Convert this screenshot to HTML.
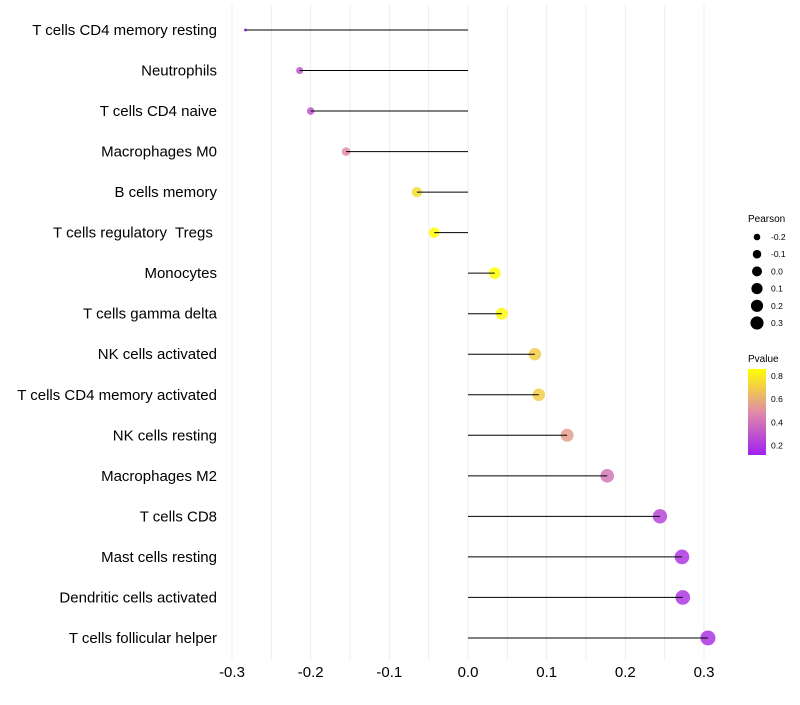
<!DOCTYPE html>
<html><head><meta charset="utf-8"><style>
body{margin:0;background:#fff;font-family:"Liberation Sans",sans-serif}
svg text{font-family:"Liberation Sans",sans-serif}
</style></head><body>
<svg id="chart" width="800" height="700" xmlns="http://www.w3.org/2000/svg">
<defs><linearGradient id="pg" x1="0" y1="1" x2="0" y2="0">
<stop offset="0" stop-color="#a020f0"/><stop offset="0.5" stop-color="#e08ca8"/><stop offset="1" stop-color="#ffff00"/>
</linearGradient></defs>
<g id="grid"></g>
<g id="pts"></g>
<g id="marks"></g>
<g id="labels"></g>
<g id="xt"></g>
<g>
<text x="748" y="222" font-size="10">Pearson</text>
<g id="sizeLeg"></g>
</g>
<g>
<text x="748" y="362" font-size="10">Pvalue</text>
<rect x="748" y="369" width="18" height="86" fill="url(#pg)"/>
<g id="colLeg"></g>
</g>
</svg>
<script>
const categories=["T cells CD4 memory resting","Neutrophils","T cells CD4 naive","Macrophages M0","B cells memory","T cells regulatory  Tregs ","Monocytes","T cells gamma delta","NK cells activated","T cells CD4 memory activated","NK cells resting","Macrophages M2","T cells CD8","Mast cells resting","Dendritic cells activated","T cells follicular helper"];
const pearson=[-0.283,-0.214,-0.200,-0.155,-0.065,-0.043,0.034,0.043,0.085,0.090,0.126,0.177,0.244,0.272,0.273,0.305];
const pvalue=[0.15,0.3,0.3,0.5,0.75,0.85,0.87,0.84,0.7,0.7,0.55,0.42,0.25,0.2,0.2,0.18];
const xTicks=[-0.3,-0.2,-0.1,0.0,0.1,0.2,0.3];
const sizeLegend=[-0.2,-0.1,0.0,0.1,0.2,0.3];
const colorLegend=[0.2,0.4,0.6,0.8];
const NS="http://www.w3.org/2000/svg";
const X=v=>468+v*786.67, Y=i=>30+i*40.53;
const R=p=>{const t=Math.max(0,(p+0.283)/0.588);return 1.5+6*Math.sqrt(t);};
const pY=p=>455-(p-0.12)/(0.86-0.12)*86;
function lerp(a,b,t){return a.map((c,i)=>Math.round(c+(b[i]-c)*t));}
function col(p){const t=Math.max(0,Math.min(1,(p-0.12)/(0.86-0.12)));
 const lo=[160,32,240],mid=[224,140,168],hi=[255,255,0];
 const c=t<0.5?lerp(lo,mid,t*2):lerp(mid,hi,(t-0.5)*2);return `rgb(${c})`;}
function mk(tag,a,parent){const e=document.createElementNS(NS,tag);for(const k in a)e.setAttribute(k,a[k]);document.getElementById(parent).appendChild(e);return e;}
for(let v=-0.3;v<=0.3001;v+=0.05){const g=mk('line',{x1:X(v),x2:X(v),y1:5,y2:660,stroke:'#ededed','stroke-width':1},'grid');

}
categories.forEach((c,i)=>{
 const p=mk('circle',{cx:X(pearson[i]),cy:Y(i),r:R(pearson[i]),fill:col(pvalue[i]),'fill-opacity':0.85},'pts');
 
 
 const l=mk('line',{x1:X(0),x2:X(pearson[i]),y1:Y(i),y2:Y(i),stroke:'#000','stroke-width':1},'marks');
 
 
 const t=mk('text',{x:217,y:Y(i)+5,'text-anchor':'end','font-size':15,fill:'#000','xml:space':'preserve',style:'white-space:pre'},'labels');t.textContent=c;
 
 
});
xTicks.forEach(v=>{const t=mk('text',{x:X(v),y:677,'text-anchor':'middle','font-size':15,fill:'#000'},'xt');t.textContent=v.toFixed(1);
 
 });
sizeLegend.forEach((v,i)=>{const y=237+i*17.2;
 const c=mk('circle',{cx:757,cy:y,r:R(v)*0.88,fill:'#000'},'sizeLeg');
 
 
 const t=mk('text',{x:771,y:y+3,'font-size':8.5},'sizeLeg');t.textContent=v.toFixed(1);
 
 });
colorLegend.forEach(v=>{const y=pY(v);
 const t=mk('text',{x:771,y:y+3,'font-size':8.5},'colLeg');t.textContent=v.toFixed(1);
 
 });
</script>
</body></html>
